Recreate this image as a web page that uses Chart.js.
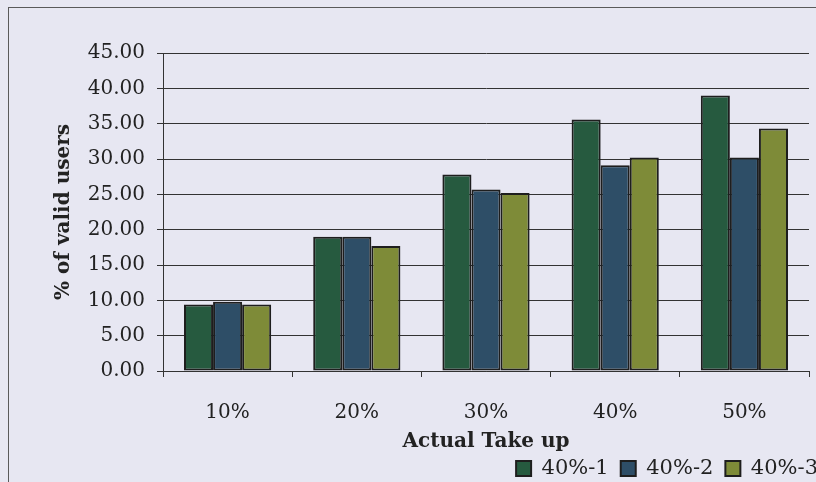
<!DOCTYPE html>
<html>
<head>
<meta charset="utf-8">
<script src="https://cdn.jsdelivr.net/npm/chart.js@4/dist/chart.umd.min.js"></script>
<style>
  html, body { margin: 0; padding: 0; width: 816px; height: 482px; overflow: hidden; background: #e7e7f2; }
  #frame { position: absolute; left: 8px; top: 7px; width: 900px; height: 600px; border: 1px solid #5a5a5a; }
  #wrap { position: absolute; left: 0; top: 0; }
</style>
</head>
<body>
<div id="frame"></div>
<div id="wrap"><canvas id="takeupChart" width="830" height="490"></canvas></div>
<script>
// values
const categories = ['10%', '20%', '30%', '40%', '50%'];
const series1 = [9.4, 19.0, 27.8, 35.6, 39.0];   // 40%-1
const series2 = [9.8, 19.0, 25.7, 29.1, 30.2];   // 40%-2
const series3 = [9.4, 17.7, 25.2, 30.2, 34.3];   // 40%-3
const seriesNames = ['40%-1', '40%-2', '40%-3'];
const yTicks = [0, 5, 10, 15, 20, 25, 30, 35, 40, 45];

const colors = ['#265a3f', '#2e4e67', '#7e8b38'];
const font = 'DejaVu Serif';

const makeSet = (label, data, color) => ({
  label,
  data,
  backgroundColor: color,
  borderColor: '#1e1e1e',
  borderWidth: 2,
  borderSkipped: false,
  categoryPercentage: 0.675,
  barPercentage: 1.0
});

let takeupChart;

window.onload = () => {
  const ctx = document.getElementById('takeupChart');
  takeupChart = new Chart(ctx, {
    type: 'bar',
    data: {
      labels: categories,
      datasets: [
        makeSet(seriesNames[0], series1, colors[0]),
        makeSet(seriesNames[1], series2, colors[1]),
        makeSet(seriesNames[2], series3, colors[2])
      ]
    },
    options: {
      responsive: false,
      devicePixelRatio: 1,
      animation: false,
      layout: { padding: { left: 0, top: 53, right: 0, bottom: 1 } },
      plugins: {
        tooltip: { enabled: false },
        legend: {
          position: 'bottom',
          align: 'end',
          labels: {
            boxWidth: 15,
            boxHeight: 15,
            padding: 12,
            color: '#222',
            font: { family: font, size: 21 }
          }
        }
      },
      scales: {
        x: {
          grid: { display: true, drawOnChartArea: false, tickLength: 6, color: '#333' },
          border: { display: true, color: '#333', width: 1 },
          ticks: { color: '#222', padding: 24, font: { family: font, size: 20 } },
          title: {
            display: true,
            text: 'Actual Take up',
            color: '#222',
            padding: { top: 0, bottom: -8 },
            font: { family: font, size: 20, weight: 'bold' }
          },
          afterFit: (s) => { s.height = 75; }
        },
        y: {
          min: 0,
          max: 45,
          afterBuildTicks: (s) => { s.ticks = yTicks.map(v => ({ value: v })); },
          grid: { color: '#333', lineWidth: 1, tickLength: 6 },
          border: { display: true, color: '#333', width: 1 },
          ticks: {
            color: '#222',
            padding: 12,
            font: { family: font, size: 20 },
            callback: (v) => Number(v).toFixed(2)
          },
          title: {
            display: true,
            text: '% of valid users',
            color: '#222',
            padding: { top: 52, bottom: 0 },
            font: { family: font, size: 20, weight: 'bold' }
          },
          afterFit: (s) => { s.width = 163; }
        },
        yR: {
          type: 'linear',
          position: 'right',
          display: true,
          grid: { display: false },
          border: { display: false },
          ticks: { display: false },
          afterFit: (s) => { s.width = 21; }
        }
      }
    }
  });
};
</script>
</body>
</html>
